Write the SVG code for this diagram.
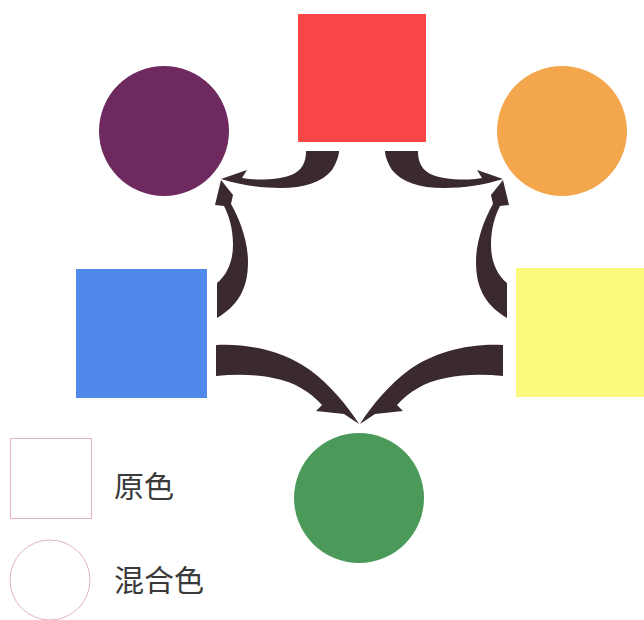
<svg xmlns="http://www.w3.org/2000/svg" width="644" height="620" viewBox="0 0 644 620">
<style>
.arrow{fill:#3b2a2d;stroke:none}
.legend{fill:none;stroke:#e2b4bc;stroke-width:1}
.label{font-family:"Noto Sans CJK SC","Noto Sans",sans-serif;font-size:30px;fill:#3a3a3a}
</style>
<rect width="644" height="620" fill="#ffffff"/>
<g id="red"><rect x="298" y="14" width="128" height="128" fill="#f84646"/></g>
<g id="purple"><circle cx="164" cy="131" r="65" fill="#6e2a5e"/></g>
<g id="orange"><circle cx="562" cy="131" r="65" fill="#f4a64c"/></g>
<g id="blue"><rect x="76" y="269" width="131" height="129" fill="#4f8aea"/></g>
<g id="yellow"><rect x="516" y="268" width="128" height="129" fill="#fdf97e"/></g>
<g id="green"><circle cx="359" cy="498" r="65" fill="#4b9a5a"/></g>
<g id="connectors">
<path class="arrow" d="M306,151 C306,165 300,175 280,178 C265,180 255,180 242,178 L247,170 L221,179 C240,185 260,188 280,188 C305,188 322,182 332,170 C337,162 339,155 339,151 Z"/>
<path class="arrow" d="M418,151 C418,165 424,175 444,178 C459,180 469,180 482,178 L477,170 L503,179 C484,185 464,188 444,188 C419,188 402,182 392,170 C387,162 385,155 385,151 Z"/>
<path class="arrow" d="M217,283 C228,274 233,260 233,245 C233,228 229,216 224,206 L215,205 L221,180 L233,195 L231,204 C239,218 248,240 248,262 C248,290 237,306 217,318 Z"/>
<path class="arrow" d="M507,283 C496,274 491,260 491,245 C491,228 495,216 500,206 L509,205 L503,180 L491,195 L493,204 C485,218 476,240 476,262 C476,290 487,306 507,318 Z"/>
<path class="arrow" d="M216,345 C250,343 285,352 310,370 C330,385 347,405 359,424 L344,414 L316,411 L322,405 C310,392 295,382 273,378 C255,374 235,374 216,376 Z"/>
<path class="arrow" d="M503,345 C469,343 434,352 409,370 C389,385 372,405 360,424 L375,414 L403,411 L397,405 C409,392 424,382 446,378 C464,374 484,374 503,376 Z"/>
</g>
<g id="legend-primary">
<rect class="legend" x="10.5" y="438.5" width="81" height="80"/>
<text class="label" x="114" y="497">原色</text>
</g>
<g id="legend-mixed">
<circle class="legend" cx="50" cy="580" r="40"/>
<text class="label" x="114" y="591">混合色</text>
</g>
</svg>
